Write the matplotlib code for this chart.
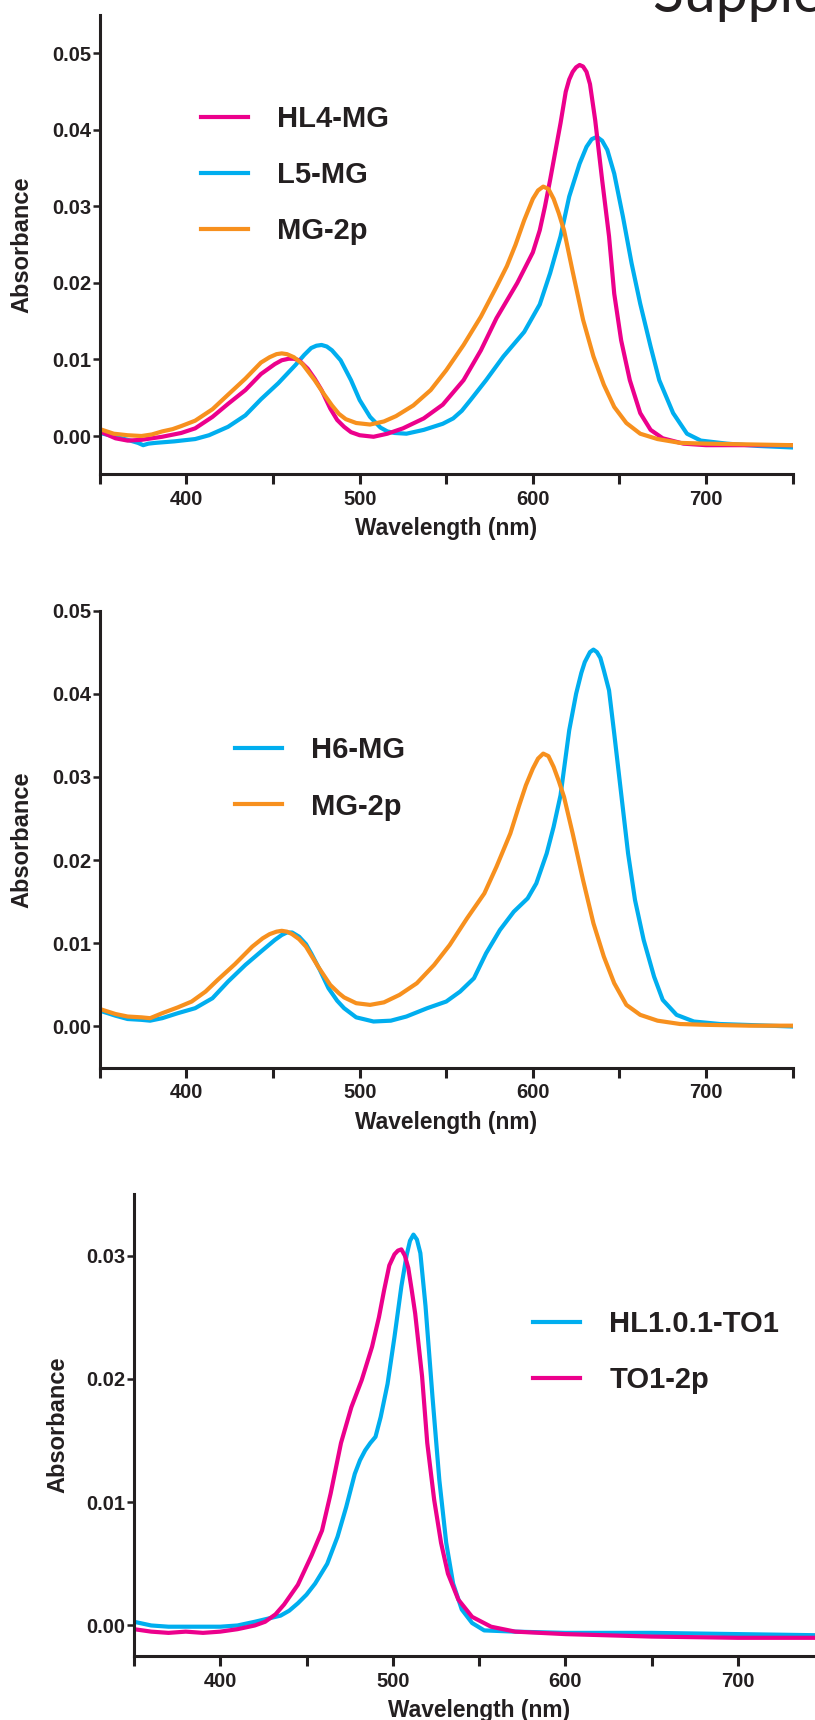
import matplotlib
matplotlib.use('Agg')
import matplotlib.pyplot as plt
from matplotlib.lines import Line2D

plt.rcParams['font.family'] = ['Liberation Sans', 'DejaVu Sans']
plt.rcParams['font.weight'] = 'bold'

MAGENTA = '#EC008C'
CYAN = '#00AEEF'
ORANGE = '#F7901E'
INK = '#231F20'

# ---- panel A: HL4-MG / L5-MG / MG-2p ----
a_mg2p_wl = [350, 358, 366, 374, 380, 386, 392, 397, 405, 415, 424, 434, 443, 448, 452, 455, 458,
             462, 467, 474, 479, 484, 488, 492, 498, 506, 514, 521, 531, 541, 550, 560, 570, 579,
             585, 590, 595, 600, 603, 606, 609, 612, 615, 618, 623, 629, 635, 641, 647, 654, 662,
             672, 685, 700, 725, 750]
a_mg2p_abs = [0.0009, 0.0003, 0.0001, 0.0000, 0.0002, 0.0006, 0.0009, 0.0013, 0.0020, 0.0035,
              0.0054, 0.0075, 0.0096, 0.0103, 0.0107, 0.0108, 0.0107, 0.0103, 0.0094, 0.0073,
              0.0056, 0.0040, 0.0029, 0.0022, 0.0017, 0.0015, 0.0019, 0.0026, 0.0040, 0.0060,
              0.0086, 0.0119, 0.0156, 0.0195, 0.0222, 0.0250, 0.0282, 0.0310, 0.0321, 0.0326,
              0.0323, 0.0310, 0.0291, 0.0269, 0.0215, 0.0152, 0.0104, 0.0067, 0.0038, 0.0017,
              0.0003, -0.0004, -0.0009, -0.0010, -0.0011, -0.0012]

a_hl4_wl = [350, 355, 359, 366, 374, 386, 397, 405, 415, 424, 434, 443, 451, 455, 459, 462, 465,
            470, 474, 478, 483, 487, 491, 495, 500, 508, 516, 525, 537, 548, 560, 570, 579, 591,
            600, 604, 607, 610, 613, 616, 619, 621, 623, 625, 627, 629, 631, 633, 636, 640, 644,
            647, 651, 656, 662, 668, 675, 687, 700, 750]
a_hl4_abs = [0.0006, 0.0001, -0.0003, -0.0006, -0.0005, -0.0001, 0.0004, 0.0010, 0.0025, 0.0042,
             0.0060, 0.0081, 0.0094, 0.0099, 0.0101, 0.0101, 0.0099, 0.0088, 0.0075, 0.0060,
             0.0036, 0.0021, 0.0012, 0.0005, 0.0001, -0.0001, 0.0003, 0.0010, 0.0023, 0.0041,
             0.0073, 0.0112, 0.0154, 0.0200, 0.0240, 0.0269, 0.0300, 0.0335, 0.0372, 0.0409,
             0.0450, 0.0466, 0.0476, 0.0482, 0.0485, 0.0483, 0.0476, 0.0460, 0.0413, 0.0335,
             0.0261, 0.0186, 0.0125, 0.0073, 0.0030, 0.0008, -0.0003, -0.0010, -0.0012, -0.0012]

a_l5_wl = [350, 359, 366, 372, 375, 378, 382, 393, 405, 413, 424, 434, 443, 453, 463, 468, 472,
           475, 478, 481, 484, 489, 495, 500, 506, 512, 516, 520, 527, 537, 548, 554, 559, 564,
           573, 583, 595, 604, 610, 616, 621, 627, 631, 634, 637, 640, 643, 647, 652, 657, 662,
           668, 673, 681, 689, 697, 712, 730, 750]
a_l5_abs = [0.0004, -0.0001, -0.0005, -0.0009, -0.0012, -0.0010, -0.0009, -0.0007, -0.0004, 0.0001,
            0.0012, 0.0027, 0.0048, 0.0069, 0.0093, 0.0106, 0.0115, 0.0118, 0.0119, 0.0117,
            0.0112, 0.0099, 0.0073, 0.0047, 0.0025, 0.0011, 0.0006, 0.0004, 0.0003, 0.0008,
            0.0016, 0.0023, 0.0033, 0.0047, 0.0073, 0.0104, 0.0136, 0.0172, 0.0213, 0.0261,
            0.0313, 0.0356, 0.0378, 0.0388, 0.0391, 0.0386, 0.0374, 0.0343, 0.0287, 0.0226,
            0.0173, 0.0117, 0.0073, 0.0030, 0.0003, -0.0006, -0.0010, -0.0013, -0.0015]

# ---- panel B: H6-MG / MG-2p ----
b_mg2p_wl = [350, 359, 366, 374, 379, 386, 395, 403, 411, 418, 428, 438, 444, 448, 452, 455, 458,
             461, 465, 469, 476, 483, 488, 491, 498, 506, 514, 523, 533, 543, 552, 562, 572, 579,
             587, 592, 596, 600, 603, 606, 609, 612, 615, 618, 623, 629, 635, 641, 647, 654, 662,
             672, 685, 700, 725, 750]
b_mg2p_abs = [0.0021, 0.0015, 0.0012, 0.0011, 0.0010, 0.0016, 0.0023, 0.0030, 0.0042, 0.0056,
              0.0075, 0.0096, 0.0106, 0.0111, 0.0114, 0.0115, 0.0114, 0.0111, 0.0105, 0.0096,
              0.0072, 0.0050, 0.0040, 0.0035, 0.0028, 0.0026, 0.0029, 0.0038, 0.0052, 0.0074,
              0.0098, 0.0130, 0.0160, 0.0192, 0.0232, 0.0265, 0.0290, 0.0310, 0.0322, 0.0328,
              0.0325, 0.0312, 0.0295, 0.0276, 0.0232, 0.0176, 0.0124, 0.0084, 0.0052, 0.0026,
              0.0014, 0.0007, 0.0003, 0.0002, 0.0001, 0.0001]

b_h6_wl = [350, 359, 366, 374, 379, 386, 395, 405, 415, 424, 434, 443, 451, 455, 458, 461, 465,
           469, 472, 477, 482, 487, 491, 498, 508, 518, 527, 539, 550, 558, 566, 573, 581, 589,
           597, 602, 608, 612, 616, 621, 625, 628, 630, 633, 635, 637, 639, 641, 644, 647, 651,
           655, 659, 664, 670, 675, 683, 693, 708, 750]
b_h6_abs = [0.0019, 0.0013, 0.0009, 0.0008, 0.0007, 0.0010, 0.0016, 0.0022, 0.0034, 0.0054,
            0.0074, 0.0090, 0.0104, 0.0110, 0.0113, 0.0113, 0.0108, 0.0099, 0.0088, 0.0068,
            0.0046, 0.0031, 0.0022, 0.0011, 0.0006, 0.0007, 0.0012, 0.0022, 0.0030, 0.0042,
            0.0058, 0.0088, 0.0116, 0.0138, 0.0154, 0.0172, 0.0208, 0.0240, 0.0278, 0.0356,
            0.0400, 0.0425, 0.0438, 0.0450, 0.0453, 0.0450, 0.0443, 0.0428, 0.0404, 0.0352,
            0.0280, 0.0208, 0.0152, 0.0104, 0.0060, 0.0032, 0.0014, 0.0006, 0.0003, 0.0000]

# ---- panel C: HL1.0.1-TO1 / TO1-2p ----
c_hl1_wl = [350, 360, 370, 380, 390, 400, 410, 420, 426, 435, 440, 445, 450, 455, 462, 468, 473,
            478, 481, 484, 487, 490, 493, 497, 501, 505, 508, 510, 512, 514, 516, 519, 523, 527,
            531, 535, 540, 546, 553, 571, 600, 650, 700, 750]
c_hl1_abs = [0.0003, 0.0000, -0.0001, -0.0001, -0.0001, -0.0001, 0.0000, 0.0003, 0.0005, 0.0008,
             0.0012, 0.0018, 0.0025, 0.0034, 0.0050, 0.0072, 0.0096, 0.0123, 0.0134, 0.0142,
             0.0148, 0.0153, 0.0169, 0.0196, 0.0234, 0.0275, 0.0300, 0.0312, 0.0317, 0.0313,
             0.0302, 0.0259, 0.0186, 0.0118, 0.0067, 0.0034, 0.0013, 0.0002, -0.0004, -0.0005,
             -0.0006, -0.0006, -0.0007, -0.0008]

c_to1_wl = [350, 360, 370, 380, 390, 400, 410, 420, 426, 432, 437, 445, 453, 459, 464, 470, 476,
            482, 488, 492, 495, 498, 501, 503, 505, 507, 509, 511, 513, 517, 520, 524, 528, 532,
            538, 546, 557, 571, 600, 650, 700, 750]
c_to1_abs = [-0.0003, -0.0005, -0.0006, -0.0005, -0.0006, -0.0005, -0.0003, 0.0000, 0.0003, 0.0009,
             0.0017, 0.0033, 0.0057, 0.0077, 0.0107, 0.0148, 0.0177, 0.0199, 0.0226, 0.0250,
             0.0272, 0.0292, 0.0301, 0.0304, 0.0305, 0.0300, 0.0290, 0.0272, 0.0253, 0.0202,
             0.0148, 0.0102, 0.0067, 0.0042, 0.0021, 0.0007, -0.0001, -0.0005, -0.0007, -0.0009,
             -0.0010, -0.0010]

x_ticks = list(range(350, 751, 50))
x_labels = [str(t) if t % 100 == 0 else '' for t in x_ticks]

fig = plt.figure(figsize=(8.15, 17.2), dpi=100)
W, H = 815.0, 1720.0


def make_axes(left, right, top, bottom):
    # pixel box -> figure fraction
    return fig.add_axes([left / W, 1 - bottom / H, (right - left) / W, (bottom - top) / H])


def style(ax, ylim, yticks, lab_x):
    ax.set_xlim(350, 750)
    ax.set_ylim(*ylim)
    for s in ('top', 'right'):
        ax.spines[s].set_visible(False)
    for s in ('left', 'bottom'):
        ax.spines[s].set_linewidth(2.2)
        ax.spines[s].set_color(INK)
    ax.set_xticks(x_ticks)
    ax.set_xticklabels(x_labels)
    ax.set_yticks(yticks)
    ax.set_yticklabels(['%.2f' % v for v in yticks])
    ax.tick_params(axis='x', length=7, width=2.2, pad=4, labelsize=14.5, colors=INK)
    ax.tick_params(axis='y', length=5, width=1.8, pad=1.2, labelsize=14.5, colors=INK)
    ax.set_xlabel('Wavelength (nm)', fontsize=16.4, fontweight='bold', color=INK, labelpad=6)
    ax.set_ylabel('Absorbance', fontsize=17, fontweight='bold', color=INK)
    # right edge of the rotated label
    ax.yaxis.set_label_coords(lab_x, 0.5)


def add_legend(ax, entries, x, y):
    handles = [Line2D([], [], color=c, lw=3) for c, _ in entries]
    leg = ax.legend(handles, [t for _, t in entries], loc='upper left', bbox_to_anchor=(x, y),
                    frameon=False, borderpad=0, borderaxespad=0, handlelength=1.62,
                    handletextpad=1.0, labelspacing=0.97,
                    prop={'family': 'Liberation Sans', 'weight': 'bold', 'size': 21})
    for t in leg.get_texts():
        t.set_color(INK)


LW = 3.0

# panel A
ax1 = make_axes(99.9, 792.6, 15.25, 474.25)
ax1.plot(a_l5_wl, a_l5_abs, color=CYAN, lw=LW)
ax1.plot(a_hl4_wl, a_hl4_abs, color=MAGENTA, lw=LW)
ax1.plot(a_mg2p_wl, a_mg2p_abs, color=ORANGE, lw=LW)
style(ax1, (-0.005, 0.055), [0.00, 0.01, 0.02, 0.03, 0.04, 0.05], -0.0965)
add_legend(ax1, [(MAGENTA, 'HL4-MG'), (CYAN, 'L5-MG'), (ORANGE, 'MG-2p')], 0.146, 0.805)

# panel B
ax2 = make_axes(99.9, 792.6, 610.5, 1068.1)
ax2.plot(b_h6_wl, b_h6_abs, color=CYAN, lw=LW)
ax2.plot(b_mg2p_wl, b_mg2p_abs, color=ORANGE, lw=LW)
style(ax2, (-0.005, 0.05), [0.00, 0.01, 0.02, 0.03, 0.04, 0.05], -0.0965)
add_legend(ax2, [(CYAN, 'H6-MG'), (ORANGE, 'MG-2p')], 0.195, 0.725)

# panel C (runs off the right edge of the page)
ax3 = make_axes(134.0, 824.0, 1193.9, 1656.3)
ax3.plot(c_hl1_wl, c_hl1_abs, color=CYAN, lw=LW)
ax3.plot(c_to1_wl, c_to1_abs, color=MAGENTA, lw=LW)
style(ax3, (-0.0025, 0.035), [0.00, 0.01, 0.02, 0.03], -0.094)
add_legend(ax3, [(CYAN, 'HL1.0.1-TO1'), (MAGENTA, 'TO1-2p')], 0.578, 0.749)

# page heading, cut by the top edge
fig.text(653 / W, 1 - 11 / H, 'Supplementary Figure', fontsize=41,
         family=['Lato', 'DejaVu Sans'], fontweight='normal', color=INK, ha='left', va='baseline')

fig.savefig('out.png', dpi=100)
